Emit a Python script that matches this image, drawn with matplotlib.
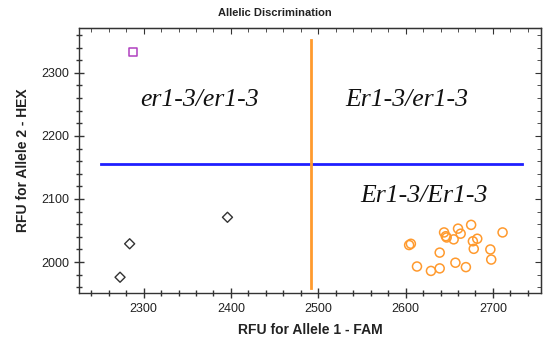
import matplotlib
matplotlib.use("Agg")
import matplotlib.pyplot as plt
from matplotlib.ticker import MultipleLocator

# Data
homo_er_x = [2273, 2284, 2396]
homo_er_y = [1976, 2029, 2071]
ntc_x = [2288]
ntc_y = [2333]
er_x = [2604, 2606, 2644, 2646, 2647, 2660, 2663, 2655, 2675, 2677, 2682, 2678,
        2711, 2697, 2698, 2639, 2613, 2629, 2639, 2657, 2669]
er_y = [2027, 2029, 2047, 2041, 2039, 2053, 2045, 2036, 2059, 2033, 2037, 2021,
        2047, 2020, 2004, 2015, 1993, 1986, 1990, 1999, 1992]
h_thresh = 2155.5
h_span = [2251, 2733]
v_thresh = 2492
v_span = [1959, 2352]
xlim = [2226, 2755]
ylim = [1951, 2371]
genotype_labels = ["er1-3/er1-3", "Er1-3/er1-3", "Er1-3/Er1-3"]
label_pos = [(2364, 2257), (2601, 2257), (2621, 2105)]

W, H = 544, 349
fig = plt.figure(figsize=(W/100, H/100), dpi=100)
ax = fig.add_axes([79/W, 1-293/H, (541-79)/W, (293-28)/H])

ax.plot(h_span, [h_thresh, h_thresh], color="#1f1fff", lw=2, zorder=2)
ax.plot([v_thresh, v_thresh], v_span, color="#ff9a2e", lw=2, zorder=2)

ax.scatter(er_x, er_y, s=42, marker="o", facecolors="none", edgecolors="#ff9a2e", linewidths=1.1, zorder=3)
ax.scatter(homo_er_x, homo_er_y, s=26, marker="D", facecolors="none", edgecolors="#333333", linewidths=1.0, zorder=3)
ax.scatter(ntc_x, ntc_y, s=38, marker="s", facecolors="none", edgecolors="#b040c0", linewidths=1.1, zorder=3)

for lab, (lx, ly) in zip(genotype_labels, label_pos):
    ax.text(lx, ly, lab, family="Liberation Serif", style="italic", fontsize=18.5,
            ha="center", va="center", color="#111111")

ax.set_xlim(xlim)
ax.set_ylim(ylim)
ax.xaxis.set_major_locator(MultipleLocator(100))
ax.xaxis.set_minor_locator(MultipleLocator(20))
ax.yaxis.set_major_locator(MultipleLocator(100))
ax.yaxis.set_minor_locator(MultipleLocator(20))
ax.tick_params(which="major", direction="inout", length=7, width=1, color="#333333",
               labelsize=9, labelcolor="#222222")
ax.tick_params(which="minor", direction="inout", length=4, width=1, color="#333333")
for lab in ax.get_xticklabels() + ax.get_yticklabels():
    lab.set_family("Liberation Sans")
for s in ax.spines.values():
    s.set_color("#333333")
    s.set_linewidth(1.0)

sx = ax.secondary_xaxis("top")
sx.xaxis.set_major_locator(MultipleLocator(100))
sx.xaxis.set_minor_locator(MultipleLocator(20))
sx.tick_params(which="major", direction="in", length=4, color="#333333", labeltop=False)
sx.tick_params(which="minor", direction="in", length=3, color="#333333")
sy = ax.secondary_yaxis("right")
sy.yaxis.set_major_locator(MultipleLocator(100))
sy.yaxis.set_minor_locator(MultipleLocator(20))
sy.tick_params(which="major", direction="in", length=4, color="#333333", labelright=False)
sy.tick_params(which="minor", direction="in", length=3, color="#333333")

ax.set_xlabel("RFU for Allele 1 - FAM", family="Liberation Sans", fontweight="bold",
              fontsize=10, color="#222222", labelpad=6)
ax.set_ylabel("RFU for Allele 2 - HEX", family="Liberation Sans", fontweight="bold",
              fontsize=10, color="#222222", labelpad=8)
fig.text(275/W, 1-13/H, "Allelic Discrimination", family="Liberation Sans", fontweight="bold",
         fontsize=8, ha="center", va="center", color="#222222")

fig.savefig("out.png", dpi=100)
